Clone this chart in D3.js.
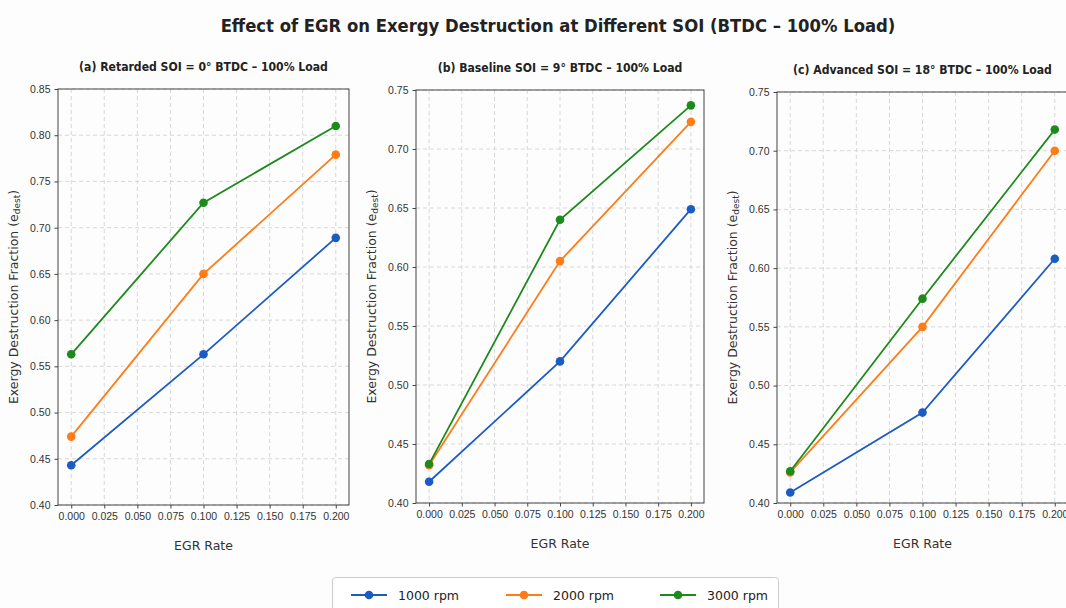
<!DOCTYPE html>
<html>
<head>
<meta charset="utf-8">
<script src="https://cdn.jsdelivr.net/npm/d3@7"></script>
<style>
  body { margin: 0; background: #fdfdfd; }
  svg { display: block; font-family: "DejaVu Sans", sans-serif; }
  .tick text { font-size: 10.5px; fill: #333; font-stretch: condensed; }
  .grid line { stroke: #d4d4d4; stroke-dasharray: 4 3; stroke-width: 0.9; }
  .title { font-size: 18.3px; font-weight: bold; fill: #222; font-stretch: condensed; }
  .subtitle { font-size: 12.1px; font-weight: bold; fill: #222; font-stretch: condensed; }
  .label { font-size: 12.5px; fill: #333; }
  .legend text { font-size: 12.5px; fill: #222; }
</style>
</head>
<body>
<svg class="chart" width="1066" height="608"></svg>
<script>
const egrRates = [0, 0.1, 0.2];
const speeds = ['1000 rpm', '2000 rpm', '3000 rpm'];
const colors = ['#1c5bc6', '#ff7c17', '#1d8a1d'];
const xTicks = [0, 0.025, 0.05, 0.075, 0.1, 0.125, 0.15, 0.175, 0.2];

const retardedValues = [
  [0.443, 0.563, 0.689],
  [0.474, 0.650, 0.779],
  [0.563, 0.727, 0.810],
];
const baselineValues = [
  [0.418, 0.520, 0.649],
  [0.432, 0.605, 0.723],
  [0.433, 0.640, 0.737],
];
const advancedValues = [
  [0.409, 0.477, 0.608],
  [0.426, 0.550, 0.700],
  [0.427, 0.574, 0.718],
];

const panelTitles = [
  '(a) Retarded SOI = 0° BTDC – 100% Load',
  '(b) Baseline SOI = 9° BTDC – 100% Load',
  '(c) Advanced SOI = 18° BTDC – 100% Load',
];
const yDomains = [[0.40, 0.85], [0.40, 0.75], [0.40, 0.75]];
const panelValues = [retardedValues, baselineValues, advancedValues];

const svg = d3.select('.chart');

svg.append('text')
  .classed('title', true)
  .attr('x', 558)
  .attr('y', 32)
  .attr('text-anchor', 'middle')
  .text('Effect of EGR on Exergy Destruction at Different SOI (BTDC – 100% Load)');

const boxes = [
  { left: 58, right: 349, top: 89, bottom: 505, labelX: 18 },
  { left: 416, right: 704, top: 90, bottom: 503, labelX: 376 },
  { left: 777, right: 1068, top: 92, bottom: 503, labelX: 737 },
];

const drawPanel = (box, i) => {
  const xScale = d3.scaleLinear().domain([-0.01, 0.21]).range([box.left, box.right]);
  const yScale = d3.scaleLinear().domain(yDomains[i]).range([box.bottom, box.top]);
  const yTicks = d3.range(Math.round(yDomains[i][0] * 20), Math.round(yDomains[i][1] * 20) + 1)
    .map(k => k / 20);
  const g = svg.append('g');

  // grid
  const grid = g.append('g').classed('grid', true);
  grid.selectAll('.gx').data(xTicks).enter().append('line')
    .attr('x1', d => xScale(d)).attr('x2', d => xScale(d))
    .attr('y1', box.top).attr('y2', box.bottom);
  grid.selectAll('.gy').data(yTicks).enter().append('line')
    .attr('y1', d => yScale(d)).attr('y2', d => yScale(d))
    .attr('x1', box.left).attr('x2', box.right);

  g.append('rect')
    .attr('x', box.left).attr('y', box.top)
    .attr('width', box.right - box.left).attr('height', box.bottom - box.top)
    .attr('fill', 'none').attr('stroke', '#444').attr('stroke-width', 1);

  const xAxis = d3.axisBottom(xScale).tickValues(xTicks).tickSize(3.5).tickPadding(4)
    .tickSizeOuter(0).tickFormat(d3.format('.3f'));
  const yAxis = d3.axisLeft(yScale).tickValues(yTicks).tickSize(3.5).tickPadding(4)
    .tickSizeOuter(0).tickFormat(d3.format('.2f'));
  g.append('g').attr('transform', `translate(0, ${box.bottom})`).call(xAxis)
    .call(a => a.select('.domain').remove());
  g.append('g').attr('transform', `translate(${box.left}, 0)`).call(yAxis)
    .call(a => a.select('.domain').remove());
  g.selectAll('.tick line').attr('stroke', '#444');

  const line = d3.line()
    .x((d, j) => xScale(egrRates[j]))
    .y(d => yScale(d));

  panelValues[i].forEach((series, s) => {
    g.append('path')
      .datum(series)
      .attr('d', line)
      .attr('fill', 'none')
      .attr('stroke', colors[s])
      .attr('stroke-width', 1.8);
    g.selectAll(`.dot${s}`)
      .data(series)
      .enter()
      .append('circle')
      .attr('cx', (d, j) => xScale(egrRates[j]))
      .attr('cy', d => yScale(d))
      .attr('r', 4.3)
      .attr('fill', colors[s]);
  });

  const cx = (box.left + box.right) / 2;
  g.append('text').classed('subtitle', true)
    .attr('x', cx).attr('y', box.top - 18)
    .attr('text-anchor', 'middle')
    .text(panelTitles[i]);

  g.append('text').classed('label', true)
    .attr('x', cx).attr('y', box.bottom + 45)
    .attr('text-anchor', 'middle')
    .text('EGR Rate');

  const yLabel = g.append('text').classed('label', true)
    .attr('transform', `translate(${box.labelX}, ${(box.top + box.bottom) / 2}) rotate(-90)`)
    .attr('text-anchor', 'middle')
    .text('Exergy Destruction Fraction (e');
  yLabel.append('tspan').attr('font-size', '9px').attr('dy', 2).text('dest');
  yLabel.append('tspan').attr('dy', -2).text(')');
};

boxes.forEach(drawPanel);

// legend
const legend = svg.append('g').classed('legend', true);
legend.append('rect')
  .attr('x', 332.5).attr('y', 577.5)
  .attr('width', 446).attr('height', 40)
  .attr('rx', 3)
  .attr('fill', '#fff').attr('stroke', '#ccc');
const legendX = [351, 506, 660];
speeds.forEach((name, s) => {
  const item = legend.append('g').attr('transform', `translate(${legendX[s]}, 595)`);
  item.append('line').attr('x1', 0).attr('x2', 36)
    .attr('stroke', colors[s]).attr('stroke-width', 1.8);
  item.append('circle').attr('cx', 18).attr('r', 4.3).attr('fill', colors[s]);
  item.append('text').attr('x', 47).attr('y', 5).text(name);
});
</script>
</body>
</html>
